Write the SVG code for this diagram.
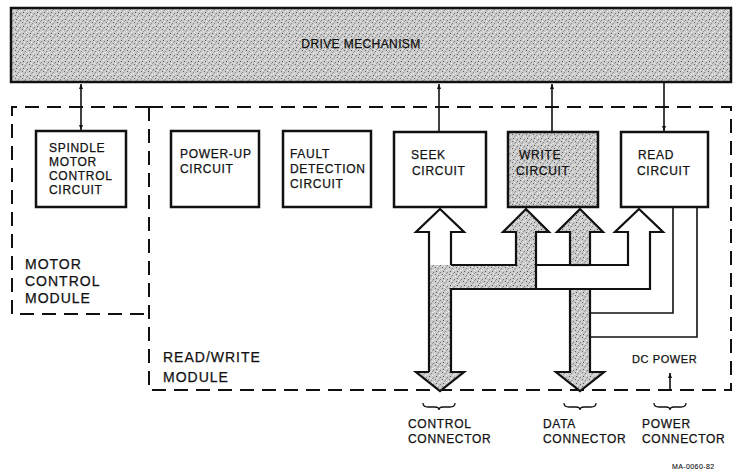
<svg xmlns="http://www.w3.org/2000/svg" width="734" height="473" viewBox="0 0 734 473">
<style>
text{font-family:"Liberation Sans",Arial,sans-serif;fill:#111;stroke:#111;stroke-width:0.25px;}
.t{font-size:12px;letter-spacing:0.7px;}
.m{font-size:14px;letter-spacing:1px;}
.box{fill:#fff;stroke:#111;stroke-width:2.5;}
.gbox{fill:url(#stip);stroke:#111;stroke-width:2.5;}
.dash{fill:none;stroke:#111;stroke-width:2;stroke-dasharray:14 8;}
.ln{fill:none;stroke:#111;stroke-width:1.6;}
.bus{fill:none;stroke:#111;stroke-width:2.2;stroke-linejoin:miter;}
.br{fill:none;stroke:#111;stroke-width:1.3;}
</style>
<defs>
<pattern id="stip" width="7" height="7" patternUnits="userSpaceOnUse">
<rect width="7" height="7" fill="#cbcbcb"/>
<rect x="1" y="1" width="1" height="1" fill="#666"/>
<rect x="4" y="2" width="1" height="1" fill="#8a8a8a"/>
<rect x="2" y="5" width="1" height="1" fill="#555"/>
<rect x="5" y="4" width="1" height="1" fill="#f2f2f2"/>
<rect x="0" y="3" width="1" height="1" fill="#eee"/>
<rect x="6" y="6" width="1" height="1" fill="#777"/>
<rect x="3" y="0" width="1" height="1" fill="#f5f5f5"/>
<rect x="5" y="0" width="1" height="1" fill="#999"/>
<rect x="3" y="3" width="1" height="1" fill="#a0a0a0"/>
</pattern>
<marker id="ah" viewBox="0 0 10 10" refX="10" refY="5" markerWidth="5" markerHeight="6" orient="auto-start-reverse" markerUnits="userSpaceOnUse">
<path d="M0,1 L10,5 L0,9 Z" fill="#111"/>
</marker>
</defs>

<g id="drive-mechanism">
<rect class="gbox" x="11" y="8" width="720" height="74"/>
<text class="t" x="361" y="48" text-anchor="middle" style="letter-spacing:0.4px">DRIVE MECHANISM</text>
</g>

<g id="motor-control-module">
<path class="dash" d="M149,107 H12 V314 H149"/>
<text class="m" x="25" y="269">MOTOR</text>
<text class="m" x="25" y="286">CONTROL</text>
<text class="m" x="25" y="303">MODULE</text>
</g>

<g id="read-write-module">
<path class="dash" d="M149,107 H731 V390 H149 Z"/>
<text class="m" x="163" y="362">READ/WRITE</text>
<text class="m" x="163" y="382">MODULE</text>
</g>

<g id="spindle">
<rect class="box" x="36" y="131" width="90" height="76"/>
<text class="t" x="49" y="152">SPINDLE</text>
<text class="t" x="49" y="166">MOTOR</text>
<text class="t" x="49" y="180">CONTROL</text>
<text class="t" x="49" y="194">CIRCUIT</text>
</g>

<g id="power-up">
<rect class="box" x="171" y="131" width="88" height="76"/>
<text class="t" x="180" y="158">POWER-UP</text>
<text class="t" x="180" y="173">CIRCUIT</text>
</g>

<g id="fault">
<rect class="box" x="283" y="131" width="88" height="76"/>
<text class="t" x="290" y="158">FAULT</text>
<text class="t" x="290" y="173">DETECTION</text>
<text class="t" x="290" y="188">CIRCUIT</text>
</g>

<g id="seek">
<rect class="box" x="394" y="132" width="92" height="75"/>
<text class="t" x="411" y="159">SEEK</text>
<text class="t" x="412" y="175">CIRCUIT</text>
</g>

<g id="write">
<rect class="gbox" x="508" y="132" width="90" height="75"/>
<text class="t" x="519" y="159">WRITE</text>
<text class="t" x="516" y="175">CIRCUIT</text>
</g>

<g id="read">
<rect class="box" x="621" y="132" width="87" height="75"/>
<text class="t" x="638" y="159">READ</text>
<text class="t" x="637" y="175">CIRCUIT</text>
</g>

<g id="connectors">
<line class="ln" x1="81" y1="84" x2="81" y2="130" marker-start="url(#ah)" marker-end="url(#ah)"/>
<line class="ln" x1="439" y1="131" x2="439" y2="84" marker-end="url(#ah)"/>
<line class="ln" x1="552" y1="131" x2="552" y2="84" marker-end="url(#ah)"/>
<line class="ln" x1="664" y1="83" x2="664" y2="131" marker-end="url(#ah)"/>

<path fill="url(#stip)" d="M429,265 H516 V232 H503 L526,209 L549,232 H536 V289 H451 V372 H464 L440,391 L416,372 H429 Z"/>
<path fill="url(#stip)" d="M570,265 V232 H557 L580,209 L603,232 H590 V265 Z"/>
<path fill="url(#stip)" d="M570,289 V372 H556 L580,391 L604,372 H590 V289 Z"/>

<path class="bus" d="M429,372 V232 H416 L440,209 L464,232 H451 V265"/>
<path class="bus" d="M451,265 H516 V232 H503 L526,209 L549,232 H536 V289 H451 V372 H464 L440,391 L416,372 H429"/>
<path class="bus" d="M536,265 H570 V232 H557 L580,209 L603,232 H590 V265 H628 V232 H615 L639,209 L663,232 H650 V289 H536"/>
<line class="bus" x1="570" y1="265" x2="590" y2="265"/>
<path class="bus" d="M570,289 V372 H556 L580,391 L604,372 H590 V289"/>
<path class="ln" d="M673,207 V313 H590"/>
<path class="ln" d="M697,207 V337 H590"/>
<line class="ln" x1="670" y1="391" x2="670" y2="373" marker-end="url(#ah)"/>
<path class="br" d="M423,403 Q423,407 428,407 H435 Q439,407 439,410 Q439,407 443,407 H450 Q455,407 455,403"/>
<path class="br" d="M564,403 Q564,407 569,407 H576 Q580,407 580,410 Q580,407 584,407 H591 Q596,407 596,403"/>
<path class="br" d="M654,403 Q654,407 659,407 H666 Q670,407 670,410 Q670,407 674,407 H681 Q686,407 686,403"/>
</g>

<g id="labels">
<text class="t" x="632" y="363" style="font-size:11px;letter-spacing:0.6px">DC POWER</text>
<text class="t" x="408" y="428">CONTROL</text>
<text class="t" x="408" y="443">CONNECTOR</text>
<text class="t" x="543" y="428">DATA</text>
<text class="t" x="543" y="443">CONNECTOR</text>
<text class="t" x="642" y="428">POWER</text>
<text class="t" x="642" y="443">CONNECTOR</text>
<text x="672" y="469" style="font-size:7px;letter-spacing:0.4px;stroke-width:0.1px">MA-0060-82</text>
</g>
</svg>
